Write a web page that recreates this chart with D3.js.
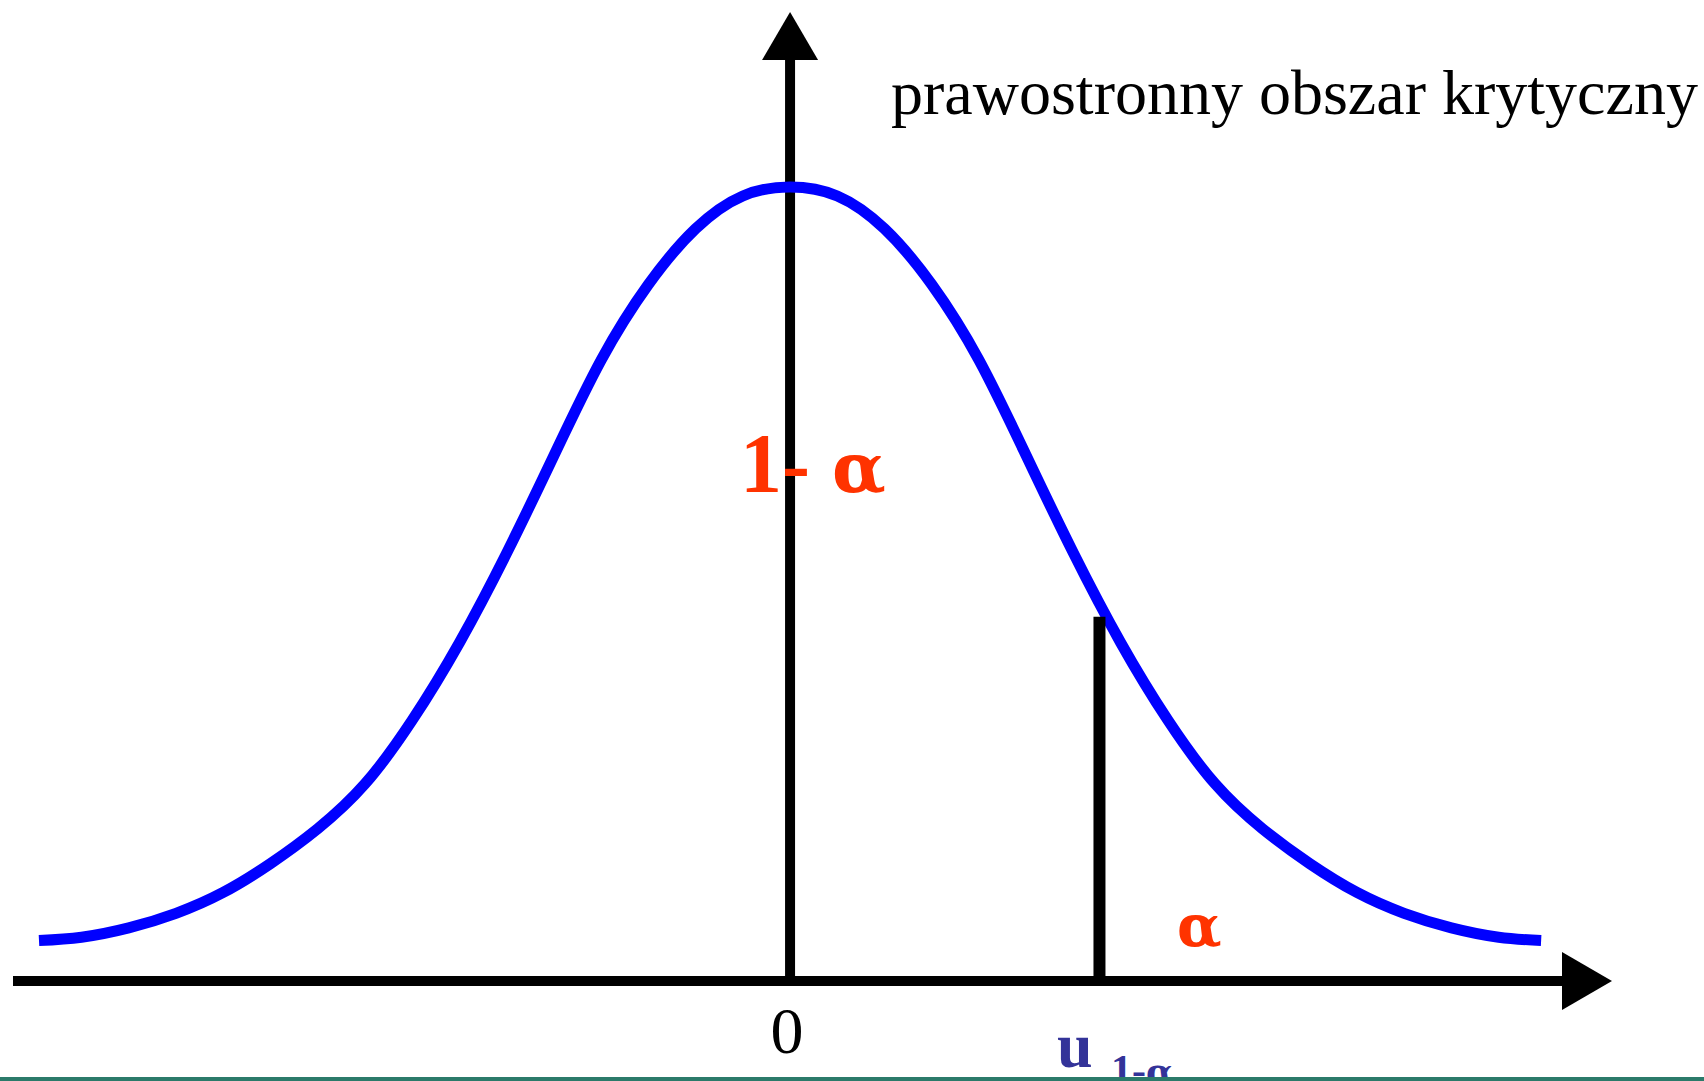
<!DOCTYPE html>
<html>
<head>
<meta charset="utf-8">
<script src="https://cdn.jsdelivr.net/npm/d3@7"></script>
<style>
  html, body { margin: 0; padding: 0; background: #ffffff; }
  svg { display: block; }
</style>
</head>
<body>
<div id="general"></div>
<script>
// curve: z (sd units) and height of the density
const curveZ = [-3.18, -3.0, -2.8, -2.6, -2.4, -2.2, -2.0, -1.8, -1.6, -1.4, -1.2, -1.0, -0.8, -0.6, -0.4, -0.2, 0, 0.2, 0.4, 0.6, 0.8, 1.0, 1.2, 1.4, 1.6, 1.8, 2.0, 2.2, 2.4, 2.6, 2.8, 3.0, 3.18];
const curveDensity = [0.0203, 0.022, 0.0267, 0.034, 0.0445, 0.059, 0.0765, 0.099, 0.131, 0.170, 0.215, 0.264, 0.312, 0.350, 0.378, 0.3945, 0.399, 0.3945, 0.378, 0.350, 0.312, 0.264, 0.215, 0.170, 0.131, 0.099, 0.0765, 0.059, 0.0445, 0.034, 0.0267, 0.022, 0.0203];

const criticalZ = 1.31;
const criticalHeight = 0.183;

const title = "prawostronny obszar krytyczny";
const zeroLabel = "0";
const critLabel = "u";

const w = 1704, h = 1081;
const serif = "'Liberation Serif', 'Times New Roman', serif";
const greek = "'DejaVu Serif', serif";
const red = "#ff3300";
const navy = "#333399";

const x = d3.scaleLinear().domain([-3.29, 3.48]).range([13, 1612]);
const y = d3.scaleLinear().domain([0, 0.4]).range([981, 185]);

const svg = d3.select("#general").append("svg")
  .attr("width", w).attr("height", h)
  .attr("viewBox", `0 0 ${w} ${h}`);

svg.append("rect").attr("width", w).attr("height", h).attr("fill", "#ffffff");

// axes with arrow heads
const x0 = x(0), yBase = y(0), xEnd = x.range()[1];
svg.append("line")
  .attr("x1", x.range()[0]).attr("x2", xEnd - 45)
  .attr("y1", yBase).attr("y2", yBase)
  .attr("stroke", "#000").attr("stroke-width", 10);
svg.append("path")
  .attr("d", `M${xEnd},${yBase} L${xEnd - 50},${yBase - 29} L${xEnd - 50},${yBase + 29} Z`)
  .attr("fill", "#000");

svg.append("line")
  .attr("x1", x0).attr("x2", x0)
  .attr("y1", yBase).attr("y2", 55)
  .attr("stroke", "#000").attr("stroke-width", 10);
svg.append("path")
  .attr("d", `M${x0},12 L${x0 - 28},60 L${x0 + 28},60 Z`)
  .attr("fill", "#000");

// density curve
const pts = curveZ.map((z, i) => [z, curveDensity[i]]);
svg.append("path")
  .datum(pts)
  .attr("fill", "none")
  .attr("stroke", "#0000ff")
  .attr("stroke-width", 11)
  .attr("d", d3.line().x(d => x(d[0])).y(d => y(d[1])).curve(d3.curveNatural));

// critical value
svg.append("line")
  .attr("x1", x(criticalZ)).attr("x2", x(criticalZ))
  .attr("y1", y(criticalHeight)).attr("y2", yBase + 4)
  .attr("stroke", "#000").attr("stroke-width", 12);

// texts
svg.append("text").text(title)
  .attr("x", 891).attr("y", 114)
  .attr("font-family", serif).attr("font-size", 64).attr("fill", "#000");

const acc = svg.append("text")
  .attr("x", 740).attr("y", 492)
  .attr("font-family", serif).attr("font-size", 84).attr("font-weight", "bold")
  .attr("fill", red);
acc.append("tspan").text("1- ");
acc.append("tspan").attr("x", 832).attr("font-family", greek).attr("font-size", 70).text("α");

svg.append("text").text("α")
  .attr("x", 1177).attr("y", 946)
  .attr("font-family", greek).attr("font-size", 58).attr("font-weight", "bold")
  .attr("fill", red);

svg.append("text").text(zeroLabel)
  .attr("x", 787).attr("y", 1053).attr("text-anchor", "middle")
  .attr("font-family", serif).attr("font-size", 66).attr("fill", "#000");

svg.append("text").text(critLabel)
  .attr("x", 1057).attr("y", 1067)
  .attr("font-family", serif).attr("font-size", 64).attr("font-weight", "bold")
  .attr("fill", navy);
const sub = svg.append("text")
  .attr("x", 1111).attr("y", 1084)
  .attr("font-family", serif).attr("font-size", 42).attr("font-weight", "bold")
  .attr("fill", navy);
sub.append("tspan").text("1-");
sub.append("tspan").attr("font-family", greek).attr("font-size", 36).text("α");

// bottom rule
svg.append("rect")
  .attr("x", 0).attr("y", 1077).attr("width", w).attr("height", 4)
  .attr("fill", "#2b7a6a");
</script>
</body>
</html>
